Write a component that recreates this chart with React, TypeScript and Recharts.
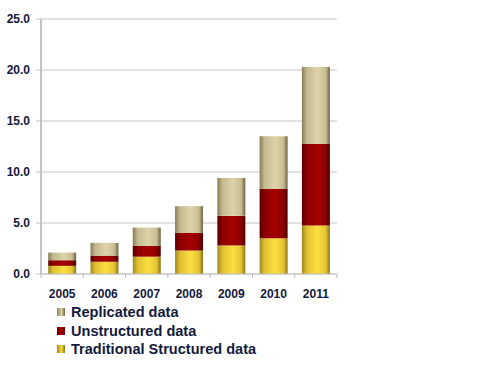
import React from 'react';
import { BarChart, Bar, XAxis, YAxis, CartesianGrid } from 'recharts';

const years = ['2005', '2006', '2007', '2008', '2009', '2010', '2011'];
const traditional = [0.8, 1.2, 1.7, 2.3, 2.8, 3.5, 4.75];
const unstructured = [0.55, 0.6, 1.05, 1.75, 2.9, 4.85, 8.0];
const replicated = [0.75, 1.25, 1.8, 2.6, 3.7, 5.15, 7.55];
const yTicks = [0, 5, 10, 15, 20, 25];

const data = years.map((year, i) => ({
  year,
  traditional: traditional[i],
  unstructured: unstructured[i],
  replicated: replicated[i],
}));

const W = 500;
const H = 366;
const LEFT = 41;
const RIGHT = 337;
const TOP = 19;
const BOTTOM = 274;
const BAND = (RIGHT - LEFT) / years.length;
const FONT = '"Liberation Sans", Arial, sans-serif';
const INK = '#141a3c';

const XTick = (props: any) => {
  const { x, index } = props;
  const left = x - BAND / 2;
  return (
    <g>
      <line x1={left} x2={left} y1={BOTTOM} y2={BOTTOM + 4} stroke="#b8b8b8" />
      {index === years.length - 1 && (
        <line x1={left + BAND} x2={left + BAND} y1={BOTTOM} y2={BOTTOM + 4} stroke="#b8b8b8" />
      )}
      <text x={x} y={BOTTOM + 23.5} textAnchor="middle" fill={INK} fontSize={12} fontWeight="bold" fontFamily={FONT}>
        {props.payload.value}
      </text>
    </g>
  );
};

const legendItems = [
  { label: 'Replicated data', grad: 'linear-gradient(90deg,#8c8460,#ddd3a8 55%,#6e6648)' },
  { label: 'Unstructured data', grad: 'linear-gradient(90deg,#6a0000,#b00000 55%,#5a0000)' },
  { label: 'Traditional Structured data', grad: 'linear-gradient(90deg,#a08820,#f8dc3c 55%,#8a7418)' },
];

export default function App() {
  return (
    <div style={{ position: 'absolute', left: 0, top: 0, width: W, height: H, background: '#fff' }}>
      <BarChart
        width={W}
        height={H}
        data={data}
        margin={{ top: TOP, right: W - RIGHT, left: 0, bottom: H - BOTTOM - 30 }}
        barCategoryGap="17%"
      >
        <defs>
          <linearGradient id="gBeige" x1="0" y1="0" x2="1" y2="0">
            <stop offset="0%" stopColor="#857c58" />
            <stop offset="18%" stopColor="#c4ba90" />
            <stop offset="55%" stopColor="#ddd3a8" />
            <stop offset="85%" stopColor="#c8be94" />
            <stop offset="100%" stopColor="#6a6244" />
          </linearGradient>
          <linearGradient id="gRed" x1="0" y1="0" x2="1" y2="0">
            <stop offset="0%" stopColor="#580000" />
            <stop offset="18%" stopColor="#8c0000" />
            <stop offset="55%" stopColor="#a60000" />
            <stop offset="85%" stopColor="#8c0000" />
            <stop offset="100%" stopColor="#4a0000" />
          </linearGradient>
          <linearGradient id="gYellow" x1="0" y1="0" x2="1" y2="0">
            <stop offset="0%" stopColor="#a08820" />
            <stop offset="18%" stopColor="#e0c032" />
            <stop offset="55%" stopColor="#fbe040" />
            <stop offset="85%" stopColor="#e4c434" />
            <stop offset="100%" stopColor="#8a7418" />
          </linearGradient>
        </defs>
        <CartesianGrid vertical={false} stroke="#c4c4c4" />
        <XAxis
          dataKey="year"
          height={30}
          axisLine={{ stroke: '#c4c4c4' }}
          tickLine={false}
          tick={<XTick />}
          interval={0}
        />
        <YAxis
          width={LEFT}
          domain={[0, 25]}
          ticks={yTicks}
          tickFormatter={(v: number) => v.toFixed(1)}
          axisLine={{ stroke: '#c4c4c4', strokeWidth: 2 }}
          tickLine={{ stroke: '#c4c4c4' }}
          tickSize={5}
          tickMargin={6}
          tick={{ fill: INK, fontSize: 12, fontWeight: 'bold', fontFamily: FONT }}
        />
        <Bar dataKey="traditional" stackId="a" fill="url(#gYellow)" isAnimationActive={false} />
        <Bar dataKey="unstructured" stackId="a" fill="url(#gRed)" isAnimationActive={false} />
        <Bar dataKey="replicated" stackId="a" fill="url(#gBeige)" isAnimationActive={false} />
      </BarChart>
      {legendItems.map((item, i) => (
        <div
          key={item.label}
          style={{ position: 'absolute', left: 57, top: 304 + i * 18.5, height: 16, display: 'flex', alignItems: 'center' }}
        >
          <div style={{ width: 8, height: 8, background: item.grad, marginRight: 6 }} />
          <div
            style={{
              fontFamily: FONT,
              fontWeight: 'bold',
              fontSize: 15,
              color: INK,
              whiteSpace: 'nowrap',
              transform: 'scaleX(0.97)',
              transformOrigin: 'left center',
              lineHeight: '16px',
            }}
          >
            {item.label}
          </div>
        </div>
      ))}
    </div>
  );
}
